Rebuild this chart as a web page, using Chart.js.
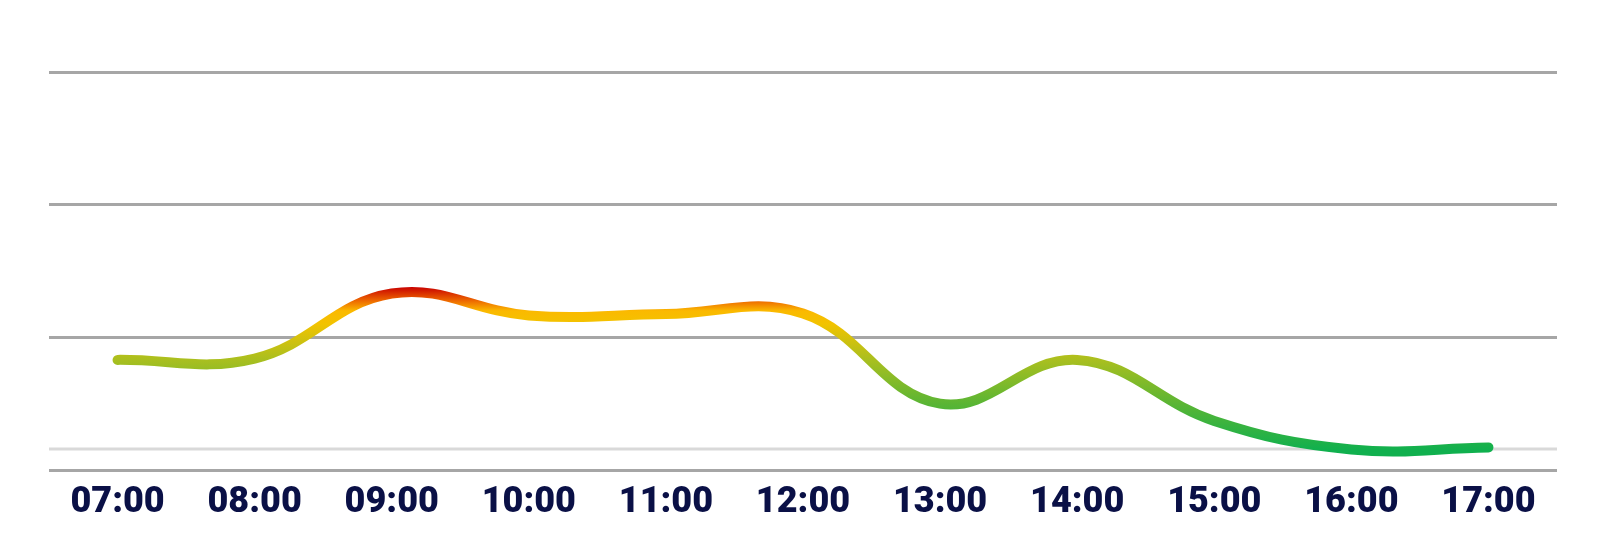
<!DOCTYPE html>
<html>
<head>
<meta charset="utf-8">
<script src="https://cdn.jsdelivr.net/npm/chart.js@4"></script>
<style>
  html, body { margin: 0; padding: 0; background: #ffffff; }
  #wrap { width: 1607px; height: 553px; position: relative; }
</style>
</head>
<body>
<div id="wrap"><canvas id="c"></canvas></div>
<script>
const categories = ['07:00','08:00','09:00','10:00','11:00','12:00','13:00','14:00','15:00','16:00','17:00'];
const values = [0.83, 0.84, 1.33, 1.165, 1.175, 1.18, 0.50, 0.83, 0.37, 0.155, 0.17];
const yTicks = [0, 1, 2, 3];
const baselineValue = 0.158;
const gradientValues = [1.38, 1.28, 1.20, 1.10, 0.83, 0.50, 0.15];
const gradientColors = ['#c80000', '#ec6400', '#fbb900', '#f2c300', '#a9bf1f', '#5ab534', '#10b04e'];

function lineGradient(context) {
  const chart = context.chart;
  const area = chart.chartArea;
  if (!area) return gradientColors[gradientColors.length - 1];
  const y = chart.scales.y;
  const top = y.getPixelForValue(gradientValues[0]);
  const bottom = y.getPixelForValue(gradientValues[gradientValues.length - 1]);
  const g = chart.ctx.createLinearGradient(0, top, 0, bottom);
  gradientValues.forEach((v, i) => {
    const p = (y.getPixelForValue(v) - top) / (bottom - top);
    g.addColorStop(Math.min(1, Math.max(0, p)), gradientColors[i]);
  });
  return g;
}

const baselinePlugin = {
  id: 'baseline',
  beforeDatasetsDraw(chart) {
    const { ctx, chartArea, scales } = chart;
    const py = scales.y.getPixelForValue(baselineValue);
    ctx.save();
    ctx.strokeStyle = '#d9d9d9';
    ctx.lineWidth = 3;
    ctx.beginPath();
    ctx.moveTo(chartArea.left, py);
    ctx.lineTo(chartArea.right, py);
    ctx.stroke();
    ctx.restore();
  }
};

new Chart(document.getElementById('c'), {
  type: 'line',
  data: {
    labels: categories,
    datasets: [{
      data: values,
      borderColor: lineGradient,
      borderWidth: 10,
      borderCapStyle: 'round',
      borderJoinStyle: 'round',
      tension: 0.4,
      pointRadius: 0,
      fill: false
    }]
  },
  options: {
    responsive: true,
    maintainAspectRatio: false,
    animation: false,
    layout: { padding: { left: 49, right: 50, top: 72, bottom: 0 } },
    plugins: { legend: { display: false }, tooltip: { enabled: false } },
    scales: {
      x: {
        offset: true,
        grid: { display: false, drawTicks: false },
        border: { display: false },
        ticks: {
          color: '#0a1046',
          padding: 11,
          maxRotation: 0,
          font: { family: 'Roboto', weight: '900', size: 36 }
        },
        afterFit(scale) { scale.height = 83; }
      },
      y: {
        min: 0,
        max: 3,
        afterBuildTicks(scale) { scale.ticks = yTicks.map(v => ({ value: v })); },
        grid: { color: '#a6a6a6', lineWidth: 3, drawTicks: false },
        border: { display: false },
        ticks: { display: false }
      }
    }
  },
  plugins: [baselinePlugin]
});
</script>
</body>
</html>
